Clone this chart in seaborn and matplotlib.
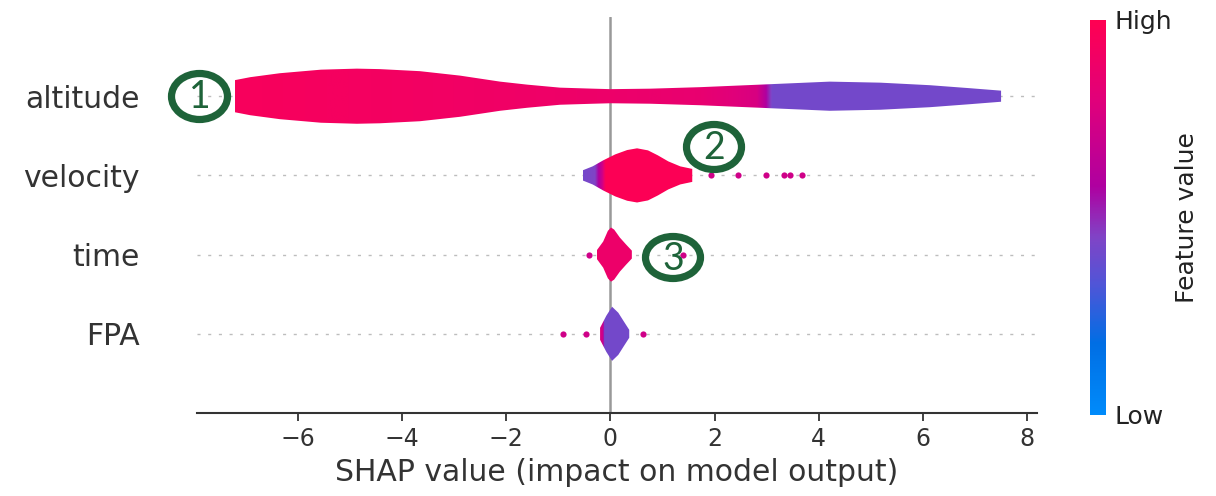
import numpy as np
import pandas as pd
import seaborn as sns
import matplotlib
matplotlib.use("Agg")
import matplotlib.pyplot as plt
from matplotlib.colors import LinearSegmentedColormap, Normalize
from matplotlib.patches import Polygon, Ellipse
from matplotlib.cm import ScalarMappable

# ---------------- data ----------------
features = ["altitude", "velocity", "time", "FPA"]
x_ticks = [-6, -4, -2, 0, 2, 4, 6, 8]

# violin outlines: SHAP value -> half width
altitude_x = [-7.21, -6.92, -6.35, -5.56, -4.87, -4.43, -3.66, -2.89, -2.12, -1.60,
              -0.97, -0.33, 0.0, 0.76, 1.72, 2.87, 4.21, 5.18, 6.13, 6.90, 7.50]
altitude_w = [0.203, 0.24, 0.29, 0.335, 0.348, 0.342, 0.316, 0.26, 0.184, 0.146,
              0.108, 0.095, 0.089, 0.095, 0.114, 0.146, 0.184, 0.171, 0.139, 0.101, 0.07]

velocity_x = [-0.53, -0.34, -0.14, 0.09, 0.32, 0.51, 0.72, 0.91, 1.11, 1.34, 1.57]
velocity_w = [0.065, 0.115, 0.19, 0.265, 0.32, 0.342, 0.316, 0.253, 0.177, 0.114, 0.082]

time_x = [-0.26, -0.14, -0.05, 0.01, 0.07, 0.18, 0.30, 0.41]
time_w = [0.057, 0.165, 0.30, 0.342, 0.316, 0.215, 0.127, 0.05]

FPA_x = [-0.20, -0.08, 0.03, 0.15, 0.26, 0.36]
FPA_w = [0.076, 0.228, 0.342, 0.266, 0.152, 0.05]

# feature value (0 = Low, 1 = High) along each violin
altitude_cx = [-7.21, -4.0, 0.0, 1.72, 2.80, 2.95, 3.10, 7.50]
altitude_cv = [0.95, 0.92, 0.88, 0.85, 0.76, 0.62, 0.42, 0.42]
velocity_cx = [-0.53, -0.30, -0.16, -0.10, 1.57]
velocity_cv = [0.42, 0.45, 0.72, 0.98, 0.98]
time_cx = [-0.26, 0.41]
time_cv = [0.88, 0.88]
FPA_cx = [-0.20, -0.15, -0.12, 0.36]
FPA_cv = [0.75, 0.72, 0.42, 0.42]

# outlier points
velocity_pts = [1.93, 2.45, 2.99, 3.33, 3.45, 3.68]
time_pts = [-0.41, 1.39]
FPA_pts = [-0.91, -0.47, 0.62]
outlier_value = 0.72

# ---------------- style ----------------
sns.set_style("white")
plt.rcParams["font.family"] = ["DejaVu Sans"]

cmap = LinearSegmentedColormap.from_list(
    "shap_red_blue",
    [(0.0, (0/255, 139/255, 251/255)),
     (0.18, (0/255, 110/255, 228/255)),
     (0.33, (80/255, 85/255, 215/255)),
     (0.45, (128/255, 68/255, 198/255)),
     (0.58, (175/255, 0/255, 160/255)),
     (0.80, (225/255, 0/255, 122/255)),
     (1.0, (255/255, 0/255, 82/255))])

W, H = 1216, 496
fig = plt.figure(figsize=(W / 100, H / 100), dpi=100)
ax = fig.add_axes([197 / W, (H - 413) / H, (1037 - 197) / W, (413 - 17) / H])

xmin, xmax = -7.94, 8.19
n = len(features)

violins = {
    "altitude": (altitude_x, altitude_w, altitude_cx, altitude_cv),
    "velocity": (velocity_x, velocity_w, velocity_cx, velocity_cv),
    "time": (time_x, time_w, time_cx, time_cv),
    "FPA": (FPA_x, FPA_w, FPA_cx, FPA_cv),
}
outliers = {"velocity": velocity_pts, "time": time_pts, "FPA": FPA_pts}

for i, feat in enumerate(features):
    ypos = n - 1 - i
    ax.axhline(ypos, color="#bdbdbd", lw=1.0, dashes=(2.2, 5.5), zorder=0)
    xs, ws, cx, cv = violins[feat]
    xs = np.asarray(xs); ws = np.asarray(ws)
    verts = np.concatenate([np.column_stack([xs, ypos + ws]),
                            np.column_stack([xs[::-1], ypos - ws[::-1]])])
    poly = Polygon(verts, closed=True, facecolor="none", edgecolor="none")
    ax.add_patch(poly)
    grid = np.linspace(xs.min(), xs.max(), 600)
    cols = cmap(np.interp(grid, cx, cv))[None, :, :]
    im = ax.imshow(cols, extent=(xs.min(), xs.max(), ypos - 0.4, ypos + 0.4),
                   aspect="auto", interpolation="bilinear", zorder=3)
    im.set_clip_path(poly)
    if feat in outliers:
        pts = outliers[feat]
        df = pd.DataFrame({"x": pts, "y": [ypos] * len(pts)})
        sns.scatterplot(data=df, x="x", y="y", color=cmap(outlier_value), s=20,
                        linewidth=0, ax=ax, zorder=4)

ax.axvline(0, color="#999999", lw=1.8, zorder=1)

ax.set_xlim(xmin, xmax)
ax.set_ylim(-1, n)
ax.set_yticks(range(n))
ax.set_yticklabels(features[::-1])
ax.set_xticks(x_ticks)
ax.set_xticklabels([f"\u2212{abs(t)}" if t < 0 else str(t) for t in x_ticks])
ax.tick_params(axis="y", length=0, pad=41, labelsize=21.5, labelcolor="#333333")
ax.tick_params(axis="x", length=6, width=1.3, color="#333333", labelsize=17,
               labelcolor="#333333", pad=4, bottom=True)
for s in ["top", "right", "left"]:
    ax.spines[s].set_visible(False)
ax.spines["bottom"].set_color("#333333")
ax.spines["bottom"].set_linewidth(1.5)
ax.set_xlabel("SHAP value (impact on model output)", fontsize=21.5, color="#333333",
              labelpad=5)
ax.set_ylabel("")

# colour bar
cax = fig.add_axes([1090 / W, (H - 415) / H, 16 / W, (415 - 20) / H])
sm = ScalarMappable(norm=Normalize(0, 1), cmap=cmap)
cb = fig.colorbar(sm, cax=cax, ticks=[0, 1])
cb.set_ticklabels(["Low", "High"])
cb.outline.set_visible(False)
cax.tick_params(length=0, labelsize=18, pad=6, labelcolor="#222222")
cb.set_label("Feature value", fontsize=18, labelpad=2, color="#222222")

# numbered annotation circles (pixel positions on the figure)
green = "#1e6339"
circles = [("1", 199.5, 96.5, 56, 46), ("2", 714, 147, 55, 45), ("3", 673, 257.5, 55, 42)]
for label, cxp, cyp, ew, eh in circles:
    e = Ellipse((cxp / W, 1 - cyp / H), ew / W, eh / H, transform=fig.transFigure,
                facecolor="none", edgecolor=green, lw=5.2, zorder=10)
    fig.add_artist(e)
    fig.text(cxp / W, 1 - (cyp + 1) / H, label, color=green, fontsize=27,
             family="Lato", ha="center", va="center", zorder=11)

fig.savefig("out.png", dpi=100)
